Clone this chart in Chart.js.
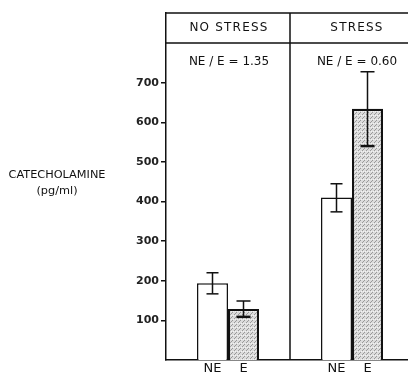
<!DOCTYPE html>
<html>
<head>
<meta charset="utf-8">
<script src="https://cdn.jsdelivr.net/npm/chart.js@4"></script>
<style>
  html, body { margin: 0; padding: 0; background: #fff; overflow: hidden; }
  canvas { display: block; }
</style>
</head>
<body>
<canvas id="chart" width="414" height="375"></canvas>
<script>
// ── data ─────────────────────────────────
const groups      = ['NO STRESS', 'STRESS'];
const ratioLabels = ['NE / E = 1.35', 'NE / E = 0.60'];
const barLabels   = ['NE', 'E'];
const neMean = [194, 410];
const neLow  = [167, 374];
const neHigh = [220, 445];
const eMean  = [129, 634];
const eLow   = [109, 540];
const eHigh  = [149, 728];
const yTicks = [100, 200, 300, 400, 500, 600, 700];

const INK = '#111';
const FONT = '"DejaVu Sans", sans-serif';

// stippled grey fill for the E bars
const stipple = (() => {
  const t = document.createElement('canvas');
  t.width = 4; t.height = 4;
  const g = t.getContext('2d');
  g.fillStyle = '#dcdcdc'; g.fillRect(0, 0, 4, 4);
  g.fillStyle = '#9a9a9a';
  [[0,0],[2,2],[3,1]].forEach(([x,y]) => g.fillRect(x, y, 1, 1));
  g.fillStyle = '#f2f2f2';
  [[1,3],[3,3]].forEach(([x,y]) => g.fillRect(x, y, 1, 1));
  return g.createPattern(t, 'repeat');
})();

const errors = [[neLow, neHigh], [eLow, eHigh]];

const decor = {
  id: 'decor',
  afterDatasetsDraw(chart) {
    const { ctx, chartArea: a, scales: { x, y } } = chart;
    ctx.save();
    ctx.strokeStyle = INK;
    ctx.fillStyle = INK;

    // error bars
    ctx.lineWidth = 1.5;
    errors.forEach(([lo, hi], d) => {
      chart.getDatasetMeta(d).data.forEach((bar, j) => {
        const yl = y.getPixelForValue(lo[j]), yh = y.getPixelForValue(hi[j]);
        const cap = 6 + d;
        ctx.beginPath();
        ctx.moveTo(bar.x, yl); ctx.lineTo(bar.x, yh);
        ctx.moveTo(bar.x - cap, yh); ctx.lineTo(bar.x + cap, yh);
        ctx.stroke();
        ctx.lineWidth = d ? 2.5 : 1.5;
        ctx.beginPath();
        ctx.moveTo(bar.x - cap, yl); ctx.lineTo(bar.x + cap, yl);
        ctx.stroke();
        ctx.lineWidth = 1.5;
      });
    });

    // panel frame: top line, header rule, divider
    const split = (x.getPixelForValue(0) + x.getPixelForValue(1)) / 2;
    const headY = 43;
    ctx.lineWidth = 1.5;
    ctx.beginPath();
    ctx.moveTo(a.left, a.top); ctx.lineTo(a.right, a.top);
    ctx.moveTo(a.left, headY); ctx.lineTo(a.right, headY);
    ctx.moveTo(split, a.top); ctx.lineTo(split, a.bottom);
    ctx.stroke();

    // headers and ratios
    ctx.textAlign = 'center';
    ctx.textBaseline = 'middle';
    ctx.font = `12px ${FONT}`;
    groups.forEach((g, i) => {
      const cx = x.getPixelForValue(i) + (i ? 5 : 1);
      ctx.letterSpacing = '1.2px';
      ctx.fillText(g, cx, 28);
      ctx.letterSpacing = '0px';
      ctx.fillText(ratioLabels[i], cx, 62);
    });

    // bar labels under the axis
    ctx.font = `13px ${FONT}`;
    ctx.textBaseline = 'top';
    chart.data.datasets.forEach((ds, d) => {
      chart.getDatasetMeta(d).data.forEach(bar => ctx.fillText(ds.label, bar.x, 362));
    });

    // y title, horizontal
    ctx.font = `11.3px ${FONT}`;
    ctx.textBaseline = 'middle';
    ctx.fillText('CATECHOLAMINE', 57, 175);
    ctx.fillText('(pg/ml)', 57, 191);
    ctx.restore();
  }
};

new Chart(document.getElementById('chart'), {
  type: 'bar',
  data: {
    labels: groups,
    datasets: [
      { label: barLabels[0], data: neMean, backgroundColor: '#fff',
        borderColor: INK, borderWidth: 1.5, borderSkipped: 'bottom' },
      { label: barLabels[1], data: eMean, backgroundColor: stipple,
        borderColor: INK, borderWidth: 2.2, borderSkipped: 'bottom' }
    ]
  },
  options: {
    responsive: false,
    animation: false,
    layout: { padding: { top: 13, left: 0, right: 0, bottom: 0 } },
    categoryPercentage: 0.5,
    barPercentage: 1,
    plugins: { legend: { display: false }, tooltip: { enabled: false } },
    scales: {
      x: {
        ticks: { display: false },
        grid: { display: false, drawTicks: false },
        border: { display: true, color: INK, width: 1.5 },
        afterFit: s => { s.height = 15; }
      },
      y: {
        min: 0, max: 876,
        afterBuildTicks: s => { s.ticks = yTicks.map(v => ({ value: v })); },
        ticks: { color: '#222', padding: 2, font: { family: FONT, size: 11, weight: '600' } },
        grid: { drawOnChartArea: false, tickLength: 5, color: INK, lineWidth: 1.5 },
        border: { display: true, color: INK, width: 1.5 },
        afterFit: s => { s.width = 166; }
      }
    }
  },
  plugins: [decor]
});
</script>
</body>
</html>
